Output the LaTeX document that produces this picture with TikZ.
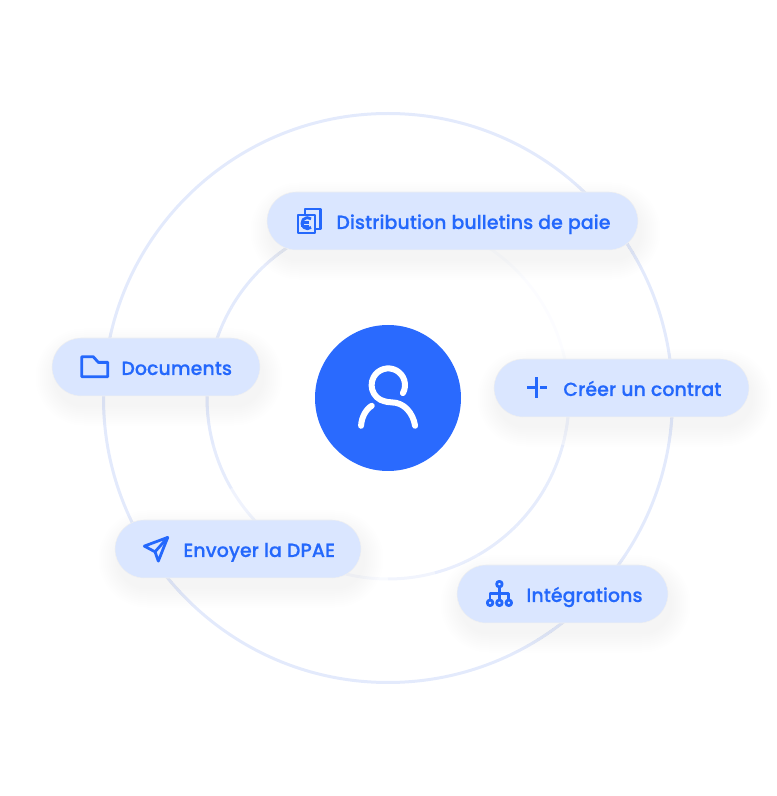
\documentclass[tikz,border=0pt]{standalone}
\usepackage{xcolor}
\usepackage{fontspec}
\setmainfont{Poppins}[UprightFont=*-Medium, UprightFeatures={FakeBold=0.25}]
\usepackage{tikz}
\definecolor{brandblue}{HTML}{2A6AFE}
\definecolor{txtblue}{HTML}{2468FC}
\definecolor{pillblue}{HTML}{DAE6FF}
\definecolor{ringblue}{HTML}{E3EAFC}
\tikzset{
  ring/.style={draw=ringblue, line width=.06cm},
  pill/.style={draw=black!6, line width=.3pt, rounded corners=.58cm, fill=pillblue,
               minimum height=1.16cm},
  pilltxt/.style={font=\fontsize{10.85}{13}\selectfont, text=txtblue, anchor=west, inner sep=0pt,
                  text height=.3cm, text depth=.08cm},
  hub/.style={circle, fill=brandblue, minimum size=2.92cm},
  icon/.style={x=.02cm, y=-.02cm, yshift=15.92cm, draw=txtblue, line width=.056cm,
               line join=round}
}

\begin{document}
\begin{tikzpicture}
  \useasboundingbox (0,0) rectangle (15.54,15.92);
  \coordinate (c) at (7.76,7.96);
  % rings
  \draw[ring] (c) circle (5.69);
  \foreach \a/\o in {0/.15,15/.12,30/.12,45/.12,60/.12,75/.12,90/.15,105/.4,120/.9,135/1,150/1,165/1,
                     180/1,195/.9,210/.55,225/.3,240/.15,255/.25,270/.5,285/.8,300/.9,315/.9,330/.85,345/.5}
    \draw[ring, opacity=\o] ([shift={(\a:3.62)}]c) arc[start angle=\a, delta angle=15, radius=3.62];
  % soft shadows below the pills
  \foreach \x/\y/\w in {9.05/11.5/7.42, 3.12/8.58/4.16, 12.43/8.16/5.10, 4.76/4.94/4.92, 11.25/4.04/4.22}
    \foreach \g in {.03,.07,...,.43}
      \fill[black, opacity=.0045, rounded corners=.58cm+\g cm]
        (\x-\w/2-\g+.06,\y-.58-\g-.2) rectangle (\x+\w/2+\g+.06,\y+.58+\g-.2);
  % pills
  \node[pill, minimum width=7.42cm] (dist) at (9.05,11.5) {};
  \node[pill, minimum width=4.16cm] (docs) at (3.12,8.58) {};
  \node[pill, minimum width=5.10cm] (crea) at (12.43,8.16) {};
  \node[pill, minimum width=4.92cm] (envo) at (4.76,4.94) {};
  \node[pill, minimum width=4.22cm] (inte) at (11.25,4.04) {};
  \node[pilltxt] (distl) at (6.72,11.45) {Distribution bulletins de paie};
  \node[pilltxt] (docsl) at (2.42,8.53) {Documents};
  \node[pilltxt] (creal) at (11.26,8.11) {Créer un contrat};
  \node[pilltxt] (envol) at (3.66,4.89) {Envoyer la DPAE};
  \node[pilltxt] (intel) at (10.52,3.99) {Intégrations};
  \node[hub] (usr) at (c) {};
  % person
  \begin{scope}[icon, draw=white, line width=.12cm, line cap=round]
    \draw (402.9,393) arc[start angle=28.5, end angle=-242, radius=16.7]
      .. controls (386,402) and (389,402.3) .. (391.7,402.3)
      .. controls (404,402.3) and (413,413) .. (415,425.7);
    \draw (371.7,405.7) .. controls (366,409) and (361.5,417) .. (361,425.7);
  \end{scope}
  % euro
  \begin{scope}[icon]
    \draw (298,215) rectangle (315,233);
    \draw (305,215) -- (305,209) -- (320.5,209) -- (320.5,229) -- (315,229);
    \draw (311,218.8) arc[start angle=-50, end angle=-310, radius=5.6];
    \draw (301,222.7) -- (308.5,222.7) (301,226) -- (308.5,226);
  \end{scope}
  % folder
  \begin{scope}[icon]
    \draw (81.7,356.7) -- (93.3,356.7) -- (98.3,362.3) -- (107.7,362.3) -- (107.7,376.7) -- (81.7,376.7) -- cycle;
  \end{scope}
  % plus
  \begin{scope}[icon]
    \draw (526.7,387.3) -- (537,387.3) (540,387.3) -- (546.7,387.3) (536.7,377.3) -- (536.7,397.7);
  \end{scope}
  % plane
  \begin{scope}[icon]
    \draw (167.7,537.3) -- (144.3,546) -- (155,551.7) -- (158.3,561) -- cycle;
    \draw (155,551.7) -- (167.7,537.3);
  \end{scope}
  % tree
  \begin{scope}[icon]
    \draw (499.3,584) circle (2.8);
    \draw (499.3,586.8) -- (499.3,600) (490,600) -- (490,593.3) -- (508.7,593.3) -- (508.7,600);
    \foreach \x in {490,499.3,508.7}
      \draw (\x,602.7) circle (2.8);
  \end{scope}
\end{tikzpicture}
\end{document}
